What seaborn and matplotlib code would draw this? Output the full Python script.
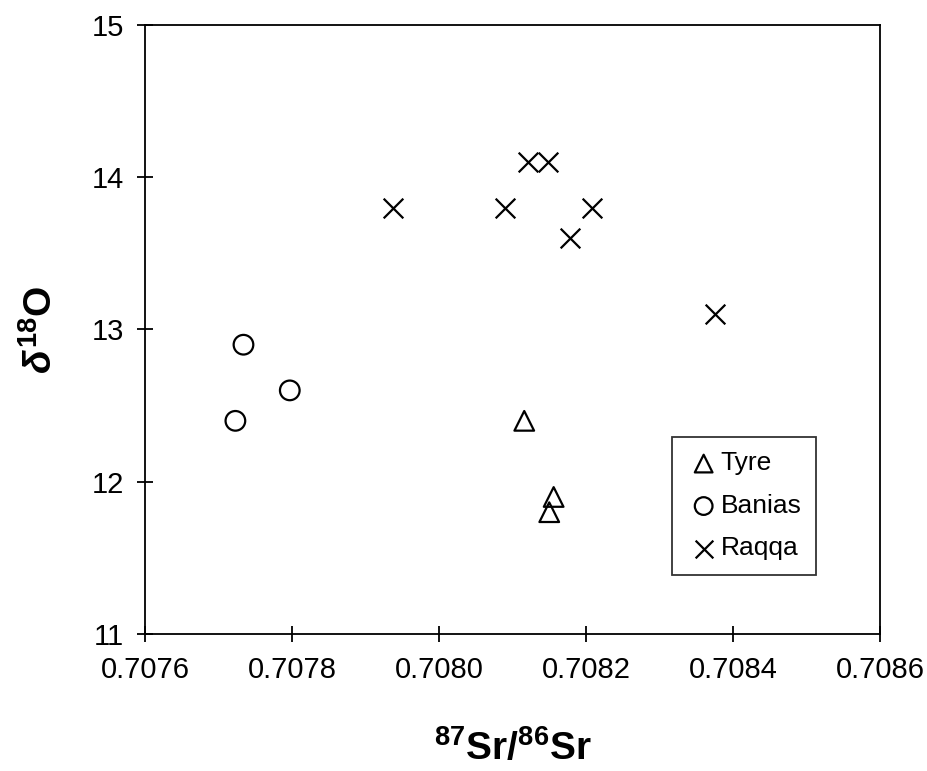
import matplotlib

matplotlib.use("Agg")

import matplotlib.pyplot as plt
import pandas as pd
import seaborn as sns

# isotope data per site: 87Sr/86Sr and delta 18O
TYRE_SR = [0.708116, 0.708156, 0.708150]
TYRE_O = [12.4, 11.9, 11.8]

BANIAS_SR = [0.707734, 0.707797, 0.707723]
BANIAS_O = [12.9, 12.6, 12.4]

RAQQA_SR = [0.707937, 0.708090, 0.708121, 0.708148, 0.708208, 0.708178, 0.708375]
RAQQA_O = [13.8, 13.8, 14.1, 14.1, 13.8, 13.6, 13.1]

X_TICKS = [0.7076, 0.7078, 0.7080, 0.7082, 0.7084, 0.7086]
Y_TICKS = [11, 12, 13, 14, 15]


def build_frame() -> pd.DataFrame:
    parts = [
        pd.DataFrame({"sr": TYRE_SR, "o18": TYRE_O, "site": "Tyre"}),
        pd.DataFrame({"sr": BANIAS_SR, "o18": BANIAS_O, "site": "Banias"}),
        pd.DataFrame({"sr": RAQQA_SR, "o18": RAQQA_O, "site": "Raqqa"}),
    ]
    return pd.concat(parts, ignore_index=True)


def main() -> None:
    sns.set_theme(style="white")
    plt.rcParams["font.family"] = ["Liberation Sans", "DejaVu Sans"]
    plt.rcParams["text.color"] = "black"
    plt.rcParams["axes.labelcolor"] = "black"
    plt.rcParams["mathtext.fontset"] = "custom"
    plt.rcParams["mathtext.rm"] = "Liberation Sans:bold"
    plt.rcParams["mathtext.bf"] = "Liberation Sans:bold"
    plt.rcParams["mathtext.it"] = "Liberation Sans:bold:italic"

    df = build_frame()

    fig = plt.figure(figsize=(9.27, 7.71), dpi=100)
    ax = fig.add_axes([0.1564, 0.1777, 0.7929, 0.7899])

    styles = {
        "Tyre": dict(marker="^", facecolor="none", edgecolor="black"),
        "Banias": dict(marker="o", facecolor="none", edgecolor="black"),
        "Raqqa": dict(marker="x", color="black"),
    }
    for site, kw in styles.items():
        sub = df[df["site"] == site]
        sns.scatterplot(data=sub, x="sr", y="o18", s=200, linewidth=1.6,
                        label=site, ax=ax, **kw)

    ax.set_xlim(0.7076, 0.7086)
    ax.set_ylim(11, 15)
    ax.set_xticks(X_TICKS)
    ax.set_yticks(Y_TICKS)
    ax.set_xticklabels([f"{v:.4f}" for v in X_TICKS])
    ax.set_yticklabels([str(v) for v in Y_TICKS])
    ax.tick_params(axis="both", direction="inout", length=12, width=1.3,
                   labelsize=21, colors="black", bottom=True, left=True)
    ax.tick_params(axis="x", pad=10)
    ax.tick_params(axis="y", pad=9)

    for spine in ax.spines.values():
        spine.set_color("black")
        spine.set_linewidth(1.3)

    ax.set_xlabel(r"$^{\mathbf{87}}\mathbf{Sr/}^{\mathbf{86}}\mathbf{Sr}$",
                  fontsize=28, labelpad=32)
    ax.set_ylabel(r"$\delta^{\mathbf{18}}\mathbf{O}$", fontsize=28, labelpad=23)

    leg = ax.legend(loc="upper left", bbox_to_anchor=(0.717, 0.3235),
                    borderaxespad=0, fontsize=19, frameon=True, fancybox=False,
                    markerscale=0.9, handletextpad=0.0, borderpad=0.55,
                    labelspacing=0.7, handlelength=1.3)
    leg.get_frame().set_edgecolor("black")
    leg.get_frame().set_linewidth(1.3)

    fig.savefig("out.png", dpi=100)
    plt.close(fig)


if __name__ == "__main__":
    main()
